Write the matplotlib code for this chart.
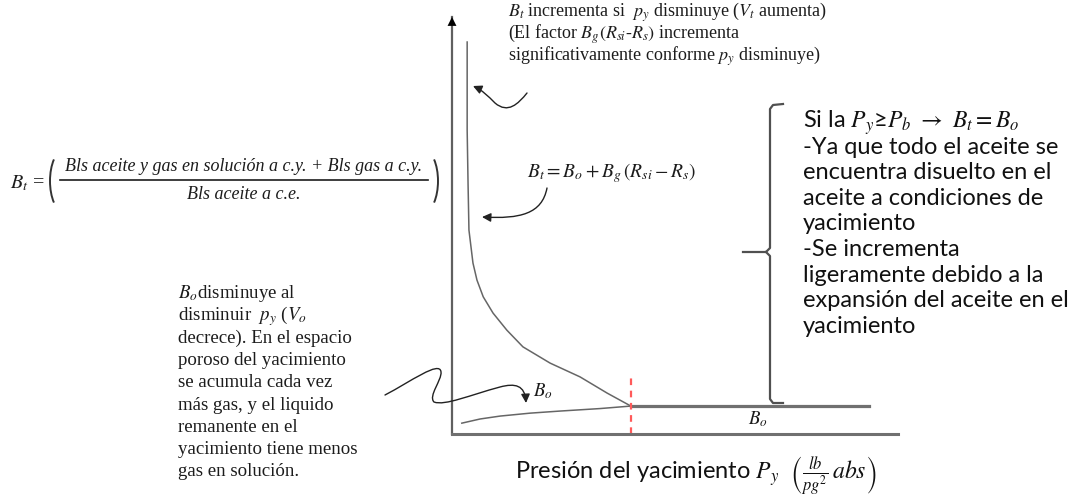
import matplotlib.pyplot as plt
from matplotlib.patches import FancyArrowPatch, Arc
from matplotlib.path import Path

plt.rcParams['mathtext.fontset'] = 'stix'

# curvas (presion y factor de volumen en unidades relativas 0-100)
bt_p = [3.4, 3.4, 3.6, 3.8, 4.7, 5.6, 7.0, 9.2, 12.3, 15.9, 22.0, 28.7, 34.8, 40.1]
bt_b = [94.0, 72.9, 60.0, 48.9, 41.0, 36.9, 32.9, 29.0, 24.9, 20.9, 17.0, 13.7, 9.8, 6.7]
bo_p = [2.2, 6.3, 10.8, 17.5, 24.2, 33.2, 40.1]
bo_b = [2.6, 3.6, 4.3, 5.0, 5.5, 6.1, 6.7]
pb = 40.1
bo_sat = 6.7
p_max = 93.5

top_note = [r"$B_t$ incrementa si  $p_y$ disminuye ($V_t$ aumenta)",
            r"(El factor $B_g(R_{si}$-$R_s)$ incrementa",
            r"significativamente conforme $p_y$ disminuye)"]
left_note = [r"$B_o$disminuye al",
             r"disminuir  $p_y$ ($V_o$",
             "decrece). En el espacio",
             "poroso del yacimiento",
             "se acumula cada vez",
             "más gas, y el liquido",
             "remanente en el",
             "yacimiento tiene menos",
             "gas en solución."]
right_note = [r"Si la $P_y$≥$P_b$ $\rightarrow$ $B_t = B_o$",
              "-Ya que todo el aceite se",
              "encuentra disuelto en el",
              "aceite a condiciones de",
              "yacimiento",
              "-Se incrementa",
              "ligeramente debido a la",
              "expansión del aceite en el",
              "yacimiento"]

W, H = 1078, 499
fig = plt.figure(figsize=(W / 100, H / 100), dpi=100)

# ejes de la grafica
ax = fig.add_axes([452 / W, 1 - 434 / H, 446 / W, 417 / H])
ax.set_xlim(0, 100)
ax.set_ylim(0, 100)
ax.set_xticks([])
ax.set_yticks([])
for s in ['top', 'right']:
    ax.spines[s].set_visible(False)
ax.spines['left'].set_color('#606060')
ax.spines['left'].set_linewidth(1.6)
ax.spines['bottom'].set_color('#707070')
ax.spines['bottom'].set_linewidth(2.2)
ax.annotate('', xy=(0, 100), xytext=(0, 92),
            arrowprops=dict(arrowstyle='-|>', color='black', lw=0,
                            mutation_scale=16, shrinkA=0, shrinkB=0),
            annotation_clip=False)

ax.plot(bt_p, bt_b, color='#666666', lw=1.1, clip_on=False)
ax.plot(bo_p, bo_b, color='#666666', lw=1.1, clip_on=False)
ax.plot([pb, p_max], [bo_sat, bo_sat], color='#707070', lw=2.3, clip_on=False)
ax.plot([pb, pb], [0, 13.7], color='#ff5a5a', lw=1.6, dashes=(3, 2.5), clip_on=False)

# capa de anotaciones en pixeles
ov = fig.add_axes([0, 0, 1, 1])
ov.set_xlim(0, W)
ov.set_ylim(H, 0)
ov.axis('off')

serif = 'Liberation Serif'
ink = '#1c1c1c'

for i, s in enumerate(top_note):
    ov.text(508, 17 + 22 * i, s, family=serif, fontsize=13, color=ink, va='baseline')

for i, s in enumerate(left_note):
    ov.text(178, 298 + 22.3 * i, s, family=serif, fontsize=13.6, color=ink, va='baseline')

for i, s in enumerate(right_note):
    ov.text(803, 128 + 25.6 * i, s, family='Lato', fontsize=17, color='#111111', va='baseline')

# formula de Bt a la izquierda
ov.text(10, 188, r"$B_t$ =", family=serif, fontsize=14.5, color=ink, va='baseline')
ov.text(244, 171, "Bls aceite y gas en solución a c.y. + Bls gas a c.y.", family=serif,
        style='italic', fontsize=13, color=ink, ha='center', va='baseline')
ov.plot([60, 428], [180, 180], color=ink, lw=1.2)
ov.text(244, 199, "Bls aceite a c.e.", family=serif, style='italic', fontsize=13,
        color=ink, ha='center', va='baseline')
ov.add_patch(Arc((64, 181), 28, 62, theta1=115, theta2=245, color='#333333', lw=1.4))
ov.add_patch(Arc((424, 181), 28, 62, theta1=-65, theta2=65, color='#333333', lw=1.4))

ov.text(612, 177, r"$B_t = B_o + B_g\,(R_{si} - R_s)$", fontsize=14, color=ink,
        ha='center', va='baseline')
ov.text(543, 396, r"$B_o$", fontsize=13.5, color=ink, ha='center', va='baseline')
ov.text(758, 424, r"$B_o$", fontsize=13.5, color=ink, ha='center', va='baseline')

ov.text(696, 479, r"Presión del yacimiento $P_y$  $\left(\frac{lb}{pg^2}\,abs\right)$",
        family='Lato', fontsize=17, color='#111111', ha='center', va='baseline')


def curved_arrow(verts, codes):
    ov.add_patch(FancyArrowPatch(path=Path(verts, codes), arrowstyle='-|>',
                                 mutation_scale=13, color='#222222', lw=1.0))


C = Path.CURVE4
curved_arrow([(527, 93), (518, 104), (508, 114), (495, 103), (488, 96), (482, 90), (473, 86)],
             [Path.MOVETO, C, C, C, C, C, C])
curved_arrow([(547, 188), (542, 214), (520, 219), (482, 217)],
             [Path.MOVETO, C, C, C])
curved_arrow([(385, 395), (410, 382), (440, 360), (441, 372),
              (442, 380), (428, 396), (434, 402),
              (445, 406), (470, 395), (500, 387),
              (515, 383), (525, 385), (526, 403)],
             [Path.MOVETO, C, C, C, C, C, C, C, C, C, C, C, C])

# llave del comentario de la derecha
ov.plot([783, 773, 770, 770, 766, 743], [104, 105, 109, 248, 252, 252], color='#505050', lw=1.6)
ov.plot([766, 770, 770, 773, 783], [252, 256, 399, 403, 403], color='#505050', lw=1.6)

fig.savefig('out.png', dpi=100)
